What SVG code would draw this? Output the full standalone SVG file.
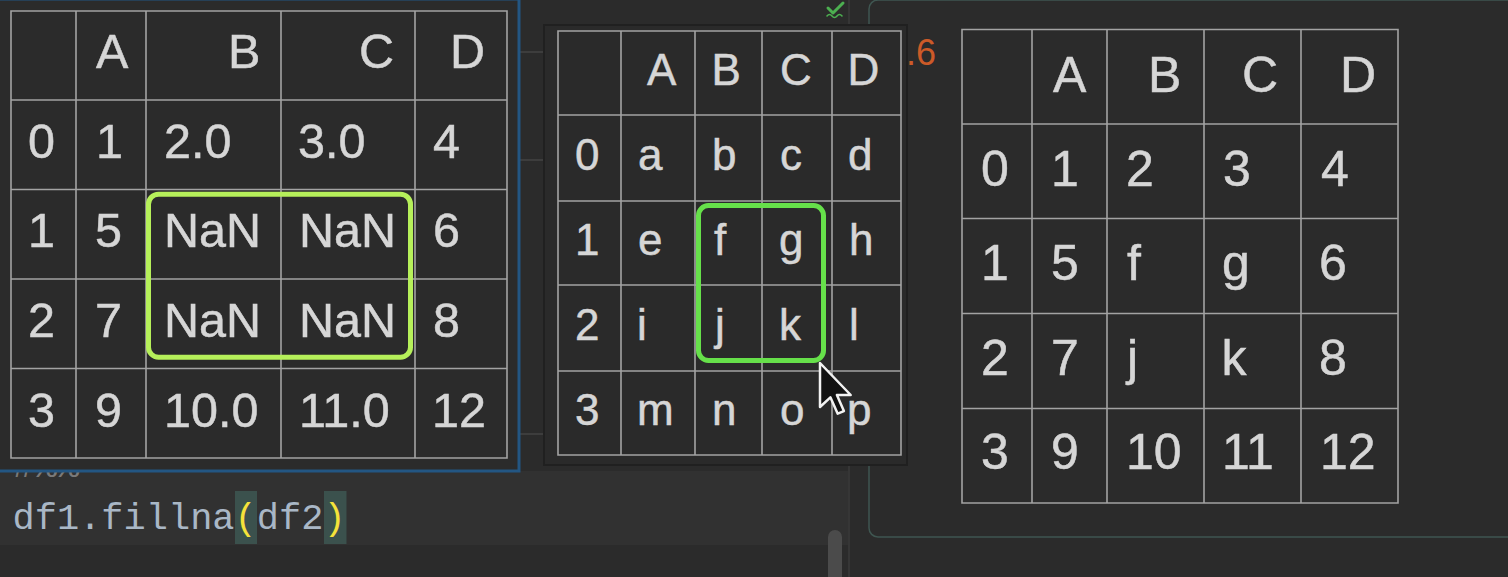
<svg xmlns="http://www.w3.org/2000/svg" width="1508" height="577" viewBox="0 0 1508 577">
<style>
.grid{fill:none;stroke:#a3a3a3;stroke-width:1.6}
.t{font-family:"Liberation Sans",Arial,Helvetica,sans-serif;fill:#d6d6d6;stroke:#d6d6d6;stroke-width:0.5}
.l{font-size:48.5px}
.m{font-size:44px}
.r{font-size:50px}
.code{font-family:"Liberation Mono","DejaVu Sans Mono",monospace;font-size:37px}
</style>
<rect x="0" y="0" width="1508" height="577" fill="#2b2b2b"/>
<!-- current line highlight -->
<rect x="0" y="471" width="848" height="74" fill="#313131"/>
<line x1="849" y1="0" x2="849" y2="577" stroke="#363636" stroke-width="2"/>
<!-- faint editor lines between panels -->
<g stroke="#454545" stroke-width="1.5">
<line x1="519" y1="52" x2="545" y2="52"/>
<line x1="519" y1="160" x2="545" y2="160"/>
<line x1="519" y1="434" x2="545" y2="434"/>
</g>
<!-- right output panel border -->
<rect x="869" y="0" width="700" height="537" rx="9" fill="none" stroke="#3f5651" stroke-width="1.5"/>
<!-- inspection icon -->
<g id="icon" fill="none" stroke="#4caf50" stroke-linecap="round" stroke-linejoin="round">
<path d="M828 8 L833 13 L843 3" stroke-width="3"/>
<path d="M827 16 q2.5 -3 5 0 t5 0 t5 0" stroke-width="1.6"/>
</g>
<!-- orange text partly behind popup -->
<text x="906" y="65" font-family="Liberation Sans,Arial,sans-serif" font-size="36" fill="#cc5a28">.6</text>
<!-- comment partly hidden -->
<text class="code" x="12.5" y="477" fill="#7a7a7a">#%%</text>
<!-- code line -->
<g id="code">
<rect x="235" y="491" width="22" height="53" fill="#3b514d"/>
<rect x="324" y="491" width="22.5" height="53" fill="#3b514d"/>
<text class="code" x="12.5" y="529" fill="#a9b7c6">df1.fillna<tspan fill="#f5e23a">(</tspan>df2<tspan fill="#f5e23a">)</tspan></text>
</g>
<!-- scrollbar thumb -->
<rect x="828" y="530" width="14" height="60" rx="7" fill="#4b4b4b"/>

<!-- left table df1 -->
<g id="df1">
<rect x="-2" y="-1" width="521" height="472" fill="#2b2b2b" stroke="#235683" stroke-width="3"/>
<path class="grid" d="M11 11H507V458H11Z M76 11V458 M146 11V458 M281 11V458 M415 11V458 M11 100H507 M11 189.5H507 M11 279H507 M11 368.5H507"/>
<g class="t l">
<text x="96" y="68">A</text><text x="228" y="68">B</text><text x="359" y="68">C</text><text x="450" y="68">D</text>
<text x="28" y="158">0</text><text x="96" y="158">1</text><text x="164" y="158">2.0</text><text x="298" y="158">3.0</text><text x="433" y="158">4</text>
<text x="28" y="247">1</text><text x="95" y="247">5</text><text x="164" y="247">NaN</text><text x="299" y="247">NaN</text><text x="433" y="247">6</text>
<text x="28" y="337">2</text><text x="95" y="337">7</text><text x="164" y="337">NaN</text><text x="299" y="337">NaN</text><text x="433" y="337">8</text>
<text x="28" y="427">3</text><text x="95" y="427">9</text><text x="164" y="427">10.0</text><text x="299" y="427">11.0</text><text x="432" y="427">12</text>
</g>
<rect x="148.5" y="194.2" width="262" height="163" rx="10" fill="none" stroke="#b6f05a" stroke-width="5"/>
</g>

<!-- middle popup df2 -->
<g id="df2">
<rect x="544" y="25" width="363" height="440" fill="#2a2a2a" stroke="#202020" stroke-width="2"/>
<path class="grid" d="M558 31H901V455H558Z M621 31V455 M695 31V455 M762 31V455 M832 31V455 M558 115H901 M558 201H901 M558 285H901 M558 371H901"/>
<g class="t m">
<text x="647" y="85">A</text><text x="711.5" y="85">B</text><text x="780" y="85">C</text><text x="847.5" y="85">D</text>
<text x="575" y="170">0</text><text x="638" y="170">a</text><text x="712" y="170">b</text><text x="780" y="170">c</text><text x="848" y="170">d</text>
<text x="575" y="255">1</text><text x="638" y="255">e</text><text x="714" y="255">f</text><text x="779" y="255">g</text><text x="849" y="255">h</text>
<text x="575" y="340">2</text><text x="637" y="340">i</text><text x="715" y="340">j</text><text x="779" y="340">k</text><text x="849" y="340">l</text>
<text x="575" y="425">3</text><text x="637" y="425">m</text><text x="712" y="425">n</text><text x="780" y="425">o</text><text x="847" y="425">p</text>
</g>
<rect x="698.5" y="205.5" width="125" height="155" rx="10" fill="none" stroke="#66e04a" stroke-width="5"/>
</g>

<!-- right result table -->
<g id="result">
<path class="grid" d="M962 29.5H1398V503H962Z M1032 29.5V503 M1107 29.5V503 M1204 29.5V503 M1301 29.5V503 M962 124H1398 M962 218.5H1398 M962 313.5H1398 M962 408.5H1398"/>
<g class="t r">
<text x="1053" y="91.5">A</text><text x="1148" y="91.5">B</text><text x="1242" y="91.5">C</text><text x="1340" y="91.5">D</text>
<text x="981" y="186">0</text><text x="1051" y="186">1</text><text x="1126" y="186">2</text><text x="1223" y="186">3</text><text x="1321" y="186">4</text>
<text x="981" y="280">1</text><text x="1051" y="280">5</text><text x="1127" y="280">f</text><text x="1222" y="280">g</text><text x="1319" y="280">6</text>
<text x="981" y="375">2</text><text x="1051" y="375">7</text><text x="1127" y="375">j</text><text x="1221.5" y="375">k</text><text x="1319" y="375">8</text>
<text x="981" y="469">3</text><text x="1051" y="469">9</text><text x="1126" y="469">10</text><text x="1222" y="469">11</text><text x="1320" y="469">12</text>
</g>
</g>

<!-- mouse cursor -->
<polygon id="cursor" points="820,363 820,407 830.4,397.3 837.7,413.7 843.9,411.1 836.9,395 850.7,395" fill="#111" stroke="#f2f2f2" stroke-width="2.5" stroke-linejoin="round"/>
</svg>
